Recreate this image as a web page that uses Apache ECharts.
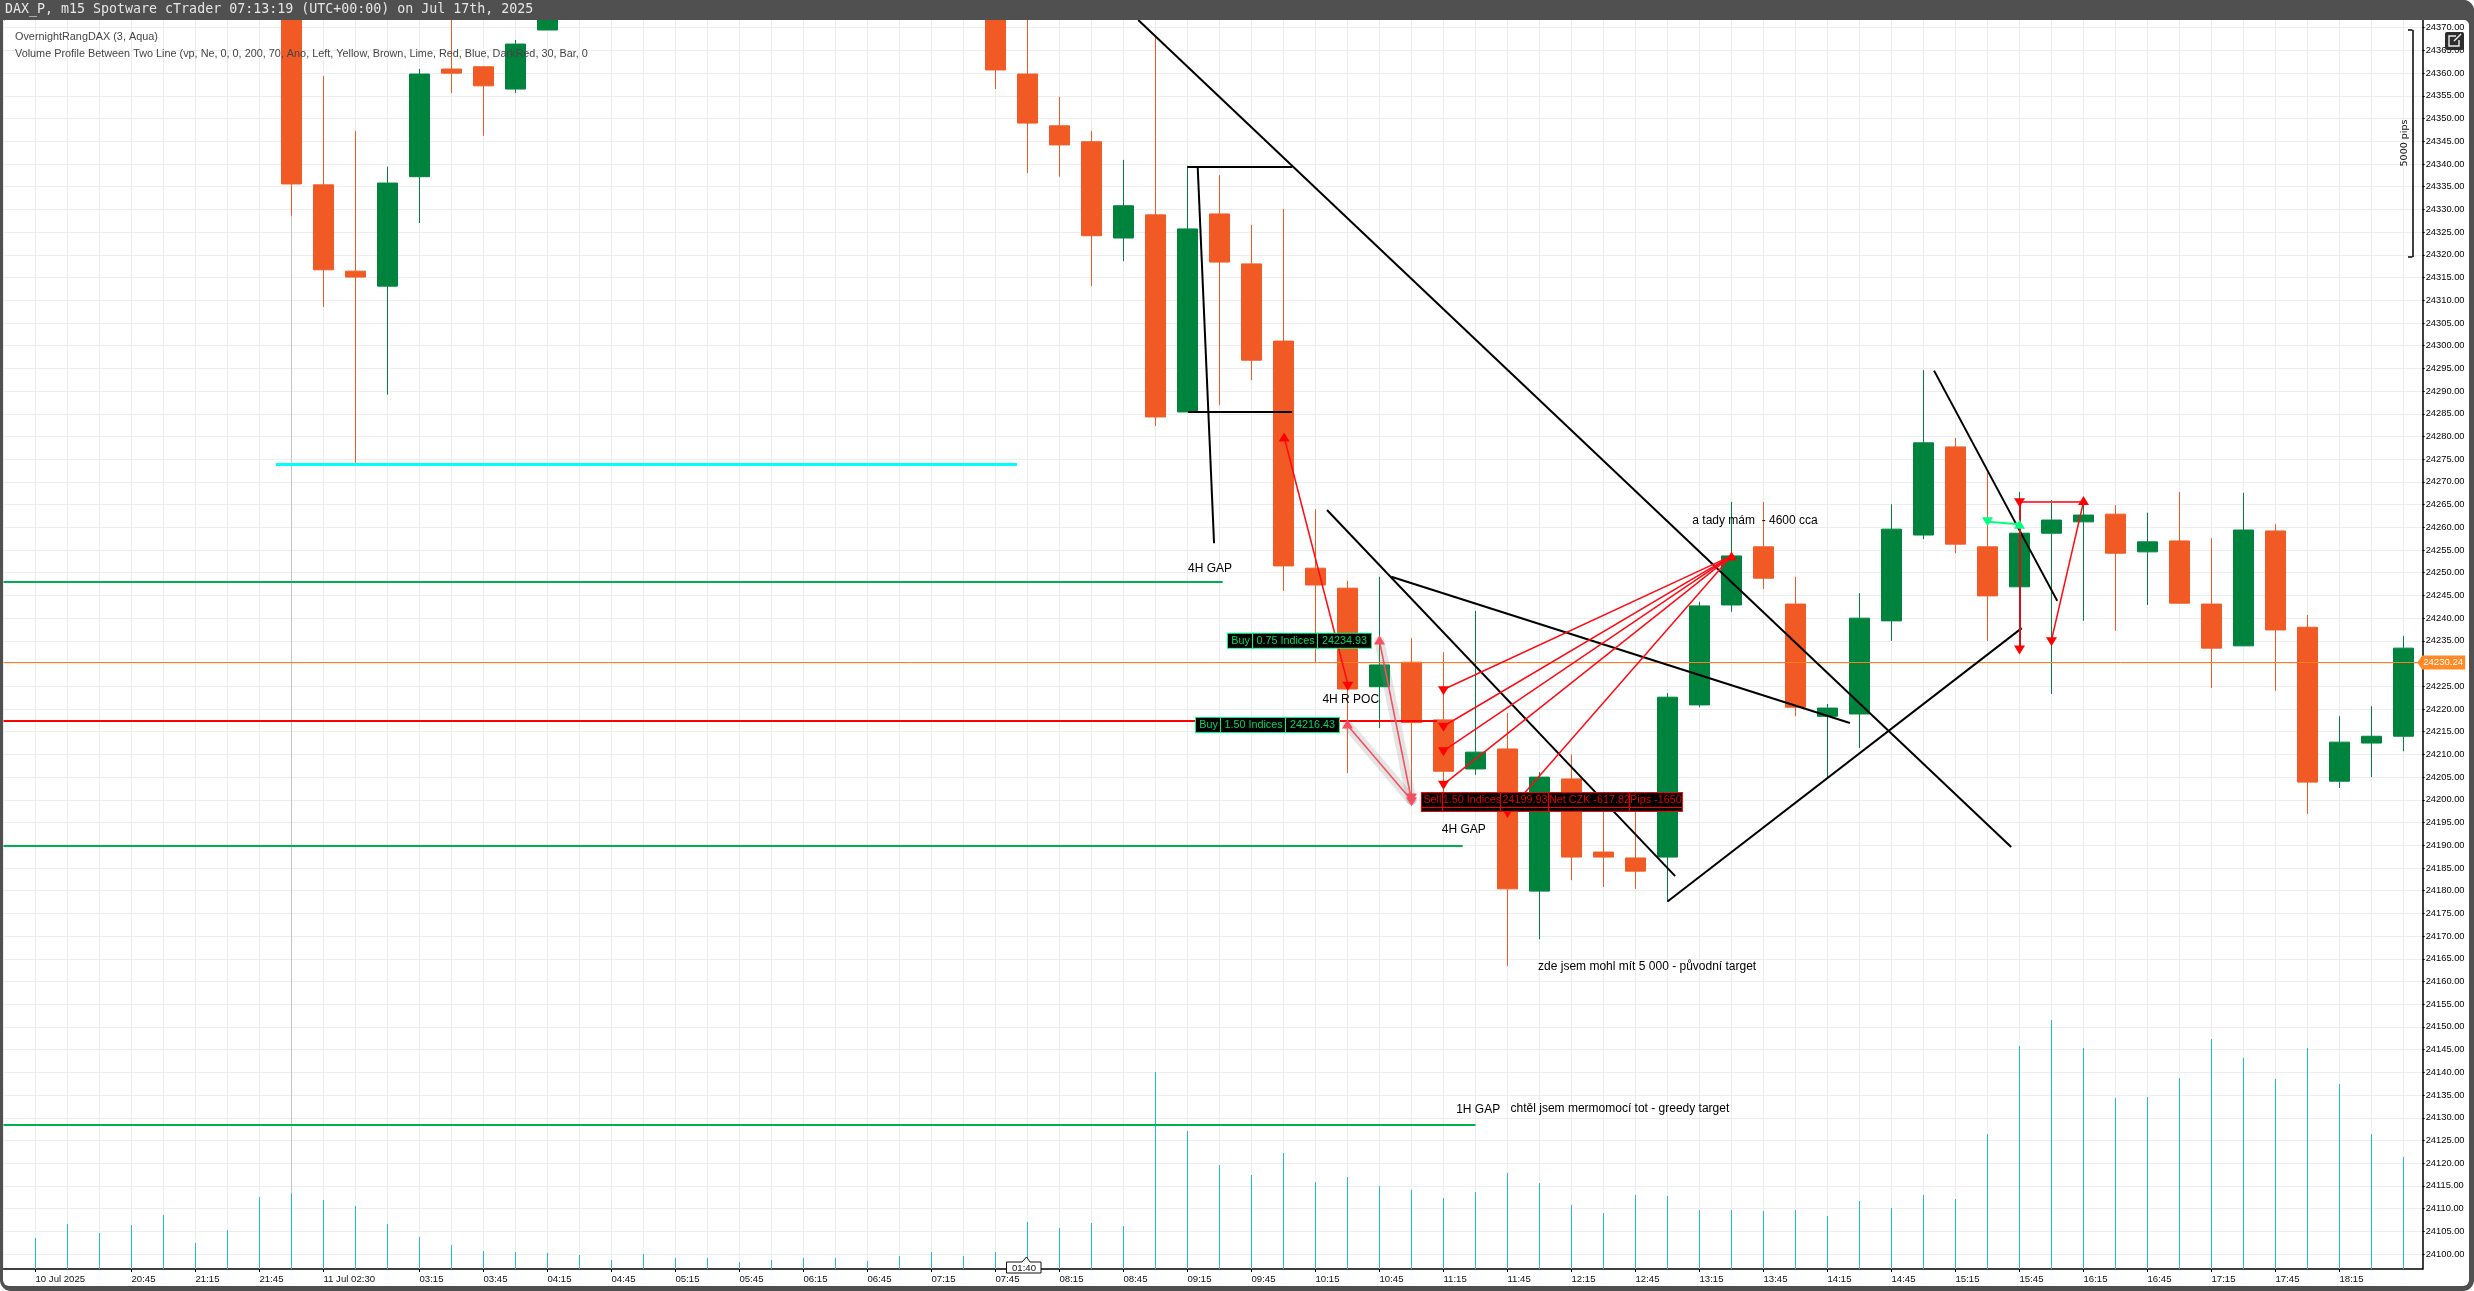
<!DOCTYPE html>
<html><head><meta charset="utf-8"><title>DAX_P m15</title>
<style>html,body{margin:0;padding:0;background:#fff}#c{width:2474px;height:1291px}</style>
<script src="https://cdn.jsdelivr.net/npm/echarts@6/dist/echarts.min.js"></script></head>
<body><div id="c"></div><script>
const headerText = "DAX_P, m15 Spotware cTrader 07:13:19 (UTC+00:00) on Jul 17th, 2025";
const indicatorLines = ["OvernightRangDAX (3, Aqua)",
 "Volume Profile Between Two Line (vp, Ne, 0, 0, 200, 70, Ano, Left, Yellow, Brown, Lime, Red, Blue, DarkRed, 30, Bar, 0"];

const xLabelBars = [0,3,5,7,9,12,14,16,18,20,22,24,26,28,30,32,34,36,38,40,42,44,46,48,50,52,54,56,58,60,62,64,66,68,70,72];
const xLabelTexts = ["10 Jul 2025","20:45","21:15","21:45","11 Jul 02:30","03:15","03:45","04:15","04:45","05:15","05:45","06:15","06:45","07:15","07:45","08:15","08:45","09:15","09:45","10:15","10:45","11:15","11:45","12:15","12:45","13:15","13:45","14:15","14:45","15:15","15:45","16:15","16:45","17:15","17:45","18:15"];
const priceTicks = [24100,24105,24110,24115,24120,24125,24130,24135,24140,24145,24150,24155,24160,24165,24170,24175,24180,24185,24190,24195,24200,24205,24210,24215,24220,24225,24230,24235,24240,24245,24250,24255,24260,24265,24270,24275,24280,24285,24290,24295,24300,24305,24310,24315,24320,24325,24330,24335,24340,24345,24350,24355,24360,24365,24370];

const candleBars = [8,9,10,11,12,13,14,15,16,30,31,32,33,34,35,36,37,38,39,40,41,42,43,44,45,46,47,48,49,50,51,52,53,54,55,56,57,58,59,60,61,62,63,64,65,66,67,68,69,70,71,72,73,74];
const opens = [24385,24335.4,24316.4,24313.1,24337.2,24360.9,24361.4,24356.5,24369.5,24380,24359.8,24348.4,24344.9,24323.7,24328.8,24285.4,24329.0,24318.0,24301.0,24251.0,24246.6,24224.9,24230.3,24217.6,24206.8,24211.2,24179.9,24204.6,24188.5,24187.2,24187.4,24220.9,24242.9,24255.7,24243.1,24218.4,24218.9,24239.4,24258.3,24277.7,24255.7,24246.9,24258.7,24261.2,24262.9,24254.6,24257.0,24243.1,24233.9,24259.2,24238.0,24204.1,24212.5,24214.0];
const closes = [24335.6,24316.7,24315.1,24335.8,24359.8,24360.0,24357.2,24366.4,24385,24360.7,24349.0,24344.2,24324.2,24330.8,24284.3,24325.7,24318.4,24296.8,24251.5,24247.3,24224.4,24229.7,24217.0,24206.3,24210.5,24180.4,24205.0,24187.4,24187.4,24184.3,24222.6,24242.7,24253.7,24248.8,24220.4,24220.2,24240.0,24259.6,24278.6,24256.3,24244.9,24258.7,24261.6,24262.7,24254.3,24256.8,24243.3,24233.4,24259.4,24237.4,24203.9,24212.7,24214.0,24233.4];
const lows = [24328.6,24308.5,24274.2,24289.2,24327.0,24355.6,24346.2,24355.6,24369.5,24356.5,24338.0,24337.2,24313.1,24318.6,24282.3,24285.4,24286.9,24292.4,24246.0,24230.1,24205.9,24215.8,24200.0,24201.0,24205.5,24163.4,24169.3,24182.3,24180.8,24180.4,24177.5,24220.4,24241.4,24246.4,24218.4,24205.0,24211.4,24235.0,24257.4,24254.3,24235.0,24246.9,24223.3,24239.4,24237.2,24242.9,24243.3,24224.6,24233.9,24224.0,24196.9,24202.6,24205.0,24210.7];
const highs = [24390,24359.4,24347.3,24339.4,24360.9,24375,24361.4,24367.3,24386,24385,24380,24354.8,24347.3,24340.9,24368.0,24339.6,24337.6,24326.6,24330.1,24264.0,24248.2,24249.1,24235.6,24232.5,24241.6,24219.1,24206.1,24210.0,24201.0,24201.8,24223.5,24243.6,24265.6,24265.6,24249.1,24221.1,24245.5,24265.1,24294.6,24279.7,24272.0,24267.8,24266.0,24265,24264.9,24263.2,24267.8,24257.6,24267.6,24260.7,24240.7,24218.4,24220.6,24236.1];
const volumes = [31,45,36,44,54,26,39,72,76,69,63,45,32,24,18,17,16,14,9,15,11,11,7,9,11,11,8,13,17,13,17,47,41,46,43,197,138,104,94,116,87,92,83,79,71,77,96,86,64,56,74,73,59,59,58,59,53,68,61,74,70,135,223,249,221,171,172,191,230,211,190,221,185,135,112];

const priceNow = 24230.24;
// each segment: [bar, price, bar, price]
const levelCyan = [[7.51,24273.9,30.67,24273.9]];
const levelGreen = [[-1,24248.0,37.1,24248.0],[-1,24189.8,44.6,24189.8],[-1,24128.4,45.0,24128.4]];
const levelRed = [[-1,24217.4,43.8,24217.4]];
const trendLines = [[34.46,24371.7,61.74,24189.6],[36.0,24339.4,39.27,24339.4],[36.02,24285.4,39.27,24285.4],[36.32,24339.1,36.83,24256.5],[40.36,24263.8,51.24,24183.2],[42.37,24249.1,56.7,24216.9],[51.0,24177.6,62.07,24237.8],[59.33,24294.5,63.18,24243.8]];
const bracketLines = [[74.28,24369.5,74.28,24319.5],[74.14,24369.5,74.28,24369.5],[74.14,24319.5,74.28,24319.5]];
const tradeLines = [[39.02,24279.9,41.01,24225.5],[44,24224.3,53,24253.7],[44,24216.2,53,24253.7],[44,24210.8,53,24253.7],[44,24203.4,53,24253.7],[46,24197.2,53,24253.7],[63,24235.2,64,24265.6]];
const fadedTrades = [[42,24234.93,43,24199.93],[41,24216.43,43,24199.93]];
const closedRed = [[62,24265.6,64,24265.6]];
const closedDark = [[62,24265.6,62,24233.0]];
const closedGreen = [[61,24261.2,62,24260.7]];
const arrowsUp = [[39.02,24279.9],[53,24253.7],[64,24265.9]];
const arrowsDown = [[41.01,24225.0],[44,24224.0],[44,24216.0],[44,24210.6],[44,24203.2],[46,24197.0],[62,24265.4],[62,24233.0],[63,24234.8]];
const fadedUp = [[42,24235.2],[41,24216.7]];
const fadedDown = [[43,24199.6],[43,24200.4]];
const greenUp = [[62,24260.7]];
const greenDown = [[61,24261.2]];
const notes = [[36.0,24251.0,"4H GAP"],[40.2,24222.1,"4H R POC"],[43.93,24193.5,"4H GAP"],[46.94,24163.2,"zde jsem mohl mít 5 000 - původní target"],[51.76,24261.5,"a tady mám  - 4600 cca"],[44.38,24131.8,"1H GAP"],[46.08,24132.1,"chtěl jsem mermomocí tot - greedy target"]];
const buyLabels = [[37.25,24235.0,"Buy","0.75 Indices","24234.93"],[36.25,24216.5,"Buy","1.50 Indices","24216.43"]];
const sellLabel = [43.31,24199.5,"Sell","1.50 Indices","24199.93","Net CZK -617.82","Pips -1650"];

const ORANGE='#F15A24', GREEN='#00843D';
const chart = echarts.init(document.getElementById('c'),null,{renderer:'canvas'});
const seg = s => s.map(a=>({coords:[[a[0],a[1]],[a[2],a[3]]]}));
const linesS = (name,data,color,width,z,extra) => Object.assign({name,type:'lines',coordinateSystem:'cartesian2d',polyline:false,silent:true,z,
  data:seg(data),lineStyle:Object.assign({color,width,opacity:1,curveness:0},extra||{})});
const tri = (name,data,color,rot,z,size) => ({name,type:'scatter',data,symbol:'triangle',symbolSize:size||[11,9],symbolRotate:rot,silent:true,z,clip:false,itemStyle:{color,opacity:1}});
const FONT='"Liberation Sans",Arial,sans-serif';
const HIDDEN={color:'rgba(0,0,0,0)',opacity:1};
const cell=(w,c,bg)=>({width:w,height:14,lineHeight:15,align:'center',color:c,backgroundColor:bg||'#000',borderColor:c==='#E00000'?'#FF0000':'#00FA7A',borderWidth:1,fontFamily:FONT,fontSize:10.8});
const bar=(w)=>({width:w,height:3,lineHeight:4,fontSize:1,color:'#000',backgroundColor:'#000',borderColor:'#FF0000',borderWidth:1});

const option={
 animation:false,backgroundColor:'#fff',
 grid:{left:3.5,top:20,width:2419.2,height:1249,containLabel:false},
 xAxis:[
  {type:'value',min:-1,max:74.6,interval:1,axisLine:{show:false},axisTick:{show:false},axisLabel:{show:false},
   splitLine:{show:true,lineStyle:{color:'#EDEDED',width:1}}},
  {type:'value',min:-1,max:74.6,position:'bottom',splitLine:{show:false},
   axisLine:{show:true,onZero:false,lineStyle:{color:'#000',width:1.5}},
   axisTick:{show:true,length:3,inside:false,customValues:xLabelBars,lineStyle:{color:'#000',width:1}},
   axisLabel:{show:true,customValues:xLabelBars,align:'left',margin:5,color:'#111',fontFamily:FONT,fontSize:9.6,
     formatter:v=>xLabelTexts[xLabelBars.indexOf(v)]||''}}
 ],
 yAxis:[
  {type:'value',position:'right',min:24096.7,max:24371.7,
   axisLine:{show:true,onZero:false,lineStyle:{color:'#000',width:1.5}},
   axisTick:{show:true,length:2,customValues:priceTicks,lineStyle:{color:'#000',width:1}},
   axisLabel:{show:true,customValues:priceTicks,margin:3,color:'#000',fontFamily:FONT,fontSize:9.3,padding:[2,0,0,0],showMinLabel:true,showMaxLabel:true,formatter:v=>v.toFixed(2)},
   splitLine:{show:true,lineStyle:{color:'#EDEDED',width:1}}},
  {type:'value',show:false,min:0,max:1249,splitLine:{show:false}}
 ],
 graphic:[
  {type:'rect',z:-2,silent:true,shape:{x:0,y:0,width:2474,height:1291,r:[0,11,11,11]},style:{fill:'#505050'}},
  {type:'rect',z:-1,silent:true,shape:{x:3,y:20,width:2466,height:1266,r:[3,5,6,6]},style:{fill:'#fff'}},
  {type:'rect',z:50,silent:true,shape:{x:0,y:0,width:2474,height:20,r:[0,11,0,0]},style:{fill:'#505050'}},
  {type:'text',z:100,silent:true,x:5,y:10,style:{text:headerText,fill:'#E6E6E6',font:'13.3px "DejaVu Sans Mono",monospace',verticalAlign:'middle'}},
  {type:'text',z:100,silent:true,x:15,y:37,style:{text:indicatorLines[0],fill:'#444',font:'10.85px '+FONT,verticalAlign:'middle'}},
  {type:'text',z:100,silent:true,x:15,y:54,style:{text:indicatorLines[1],fill:'#444',font:'10.85px '+FONT,verticalAlign:'middle'}},
  {type:'text',z:100,silent:true,x:2405,y:143,rotation:Math.PI/2,originX:0,originY:0,style:{text:'5000 pips',fill:'#111',font:'9.5px "DejaVu Sans",sans-serif',align:'center',verticalAlign:'middle'}},
  {type:'rect',z:100,silent:true,shape:{x:2445,y:32,width:19,height:18,r:2},style:{fill:'#2E2E2E'}},
  {type:'polyline',z:101,silent:true,shape:{points:[[2456,36],[2449,36],[2449,46],[2459,46],[2459,40]]},style:{stroke:'#EEE',lineWidth:1.4,fill:'none'}},
  {type:'line',z:101,silent:true,shape:{x1:2454,y1:41,x2:2461,y2:34},style:{stroke:'#EEE',lineWidth:1.4}},
  {type:'polygon',z:100,silent:true,shape:{points:[[1006.5,1262],[1022,1262],[1026.5,1257],[1030,1262],[1041,1262],[1041,1273],[1006.5,1273]]},style:{fill:'#fff',stroke:'#111',lineWidth:1}},
  {type:'text',z:101,silent:true,x:1024,y:1268,style:{text:'01:40',fill:'#111',font:'9.6px '+FONT,align:'center',verticalAlign:'middle'}}
 ],
 series:[
  {name:'Volume',type:'bar',xAxisIndex:0,yAxisIndex:1,barWidth:1,z:1,silent:true,data:volumes.map((v,i)=>[i,v]),itemStyle:{color:'#22B5EA'}},
  linesS('Cursor',[[8,24371.7,8,24096.7]],'#C6C6C6',1,1),
  {name:'DAX_P',type:'candlestick',xAxisIndex:0,yAxisIndex:0,barWidth:21,z:2,silent:true,clip:true,
   encode:{x:0,y:[1,2,3,4]},
   data:candleBars.map((b,k)=>[b,opens[k],closes[k],lows[k],highs[k]]),
   itemStyle:{color:GREEN,color0:ORANGE,borderColor:GREEN,borderColor0:ORANGE,borderWidth:1}},
  linesS('Overnight range',levelCyan,'#00FFFF',3,3),
  linesS('Gaps',levelGreen,'#00B050',2,3),
  linesS('POC',levelRed,'#FF0000',2,3),
  linesS('Current price',[[-1,priceNow,74.6,priceNow]],'#FF7F1E',1,3),
  linesS('Trend lines',trendLines,'#000',2,4),
  linesS('Bracket',bracketLines,'#000',1.5,4),
  linesS('Halo',fadedTrades,'rgba(130,130,130,0.22)',10,4,{cap:'round'}),
  linesS('Closed faded',fadedTrades,'#F4505F',1.6,5),
  linesS('Trades',tradeLines,'#FF0A14',1.5,5),
  linesS('Closed red',closedRed,'#FF3A4C',2,5),
  linesS('Closed dark',closedDark,'#D0141E',2,5),
  linesS('Closed green',closedGreen,'#00FF7F',2,5),
  tri('Up',arrowsUp,'#FF0000',0,6),
  tri('Down',arrowsDown,'#FF0000',180,6),
  tri('FadedUp',fadedUp,'#F4505F',0,6),
  tri('FadedDown',fadedDown,'#F4505F',180,6),
  tri('GreenUp',greenUp,'#00FF7F',0,6),
  tri('GreenDown',greenDown,'#00FF7F',180,6),
  {name:'Notes',type:'scatter',z:7,silent:true,symbolSize:1,clip:false,itemStyle:HIDDEN,
   data:notes.map(n=>({value:[n[0],n[1]],name:n[2]})),
   label:{show:true,position:'right',distance:0,formatter:p=>p.name,color:'#000',fontFamily:FONT,fontSize:12}},
  {name:'Buy labels',type:'scatter',z:8,silent:true,symbolSize:1,clip:false,itemStyle:HIDDEN,
   data:buyLabels.map(n=>({value:[n[0],n[1]],name:`{a|${n[2]}}{b|${n[3]}}{c|${n[4]}}`})),
   label:{show:true,position:'right',distance:0,formatter:p=>p.name,
     rich:{a:cell(25,'#00D468'),b:cell(65,'#00D468'),c:cell(53,'#00D468')}}},
  {name:'Sell label',type:'scatter',z:8,silent:true,symbolSize:1,clip:false,itemStyle:HIDDEN,
   data:[{value:[sellLabel[0],sellLabel[1]],name:`{a|${sellLabel[2]}}{b|${sellLabel[3]}}{c|${sellLabel[4]}}{d|${sellLabel[5]}}{e|${sellLabel[6]}}\n{f|}{g|}{h|}{i|}{j|}`}],
   label:{show:true,position:'right',distance:0,formatter:p=>p.name,
     rich:{a:cell(21,'#E00000'),b:cell(58,'#E00000'),c:cell(48,'#E00000'),d:cell(81,'#E00000'),e:cell(52,'#E00000'),
           f:bar(21),g:bar(58),h:bar(48),i:bar(81),j:bar(52)}}},
  {name:'Price tag',type:'scatter',z:9,silent:true,clip:false,data:[[74.6,priceNow]],
   symbol:'path://M0 6 L5 0 L48 0 L48 12 L5 12 Z',symbolSize:[48,14],symbolKeepAspect:false,symbolOffset:[18.5,0],
   itemStyle:{color:'#FF8A26',opacity:1},
   label:{show:true,position:'inside',offset:[2,0],formatter:()=>priceNow.toFixed(2),color:'#fff',fontFamily:FONT,fontSize:9.6}}
 ]
};
chart.setOption(option);
</script></body></html>
